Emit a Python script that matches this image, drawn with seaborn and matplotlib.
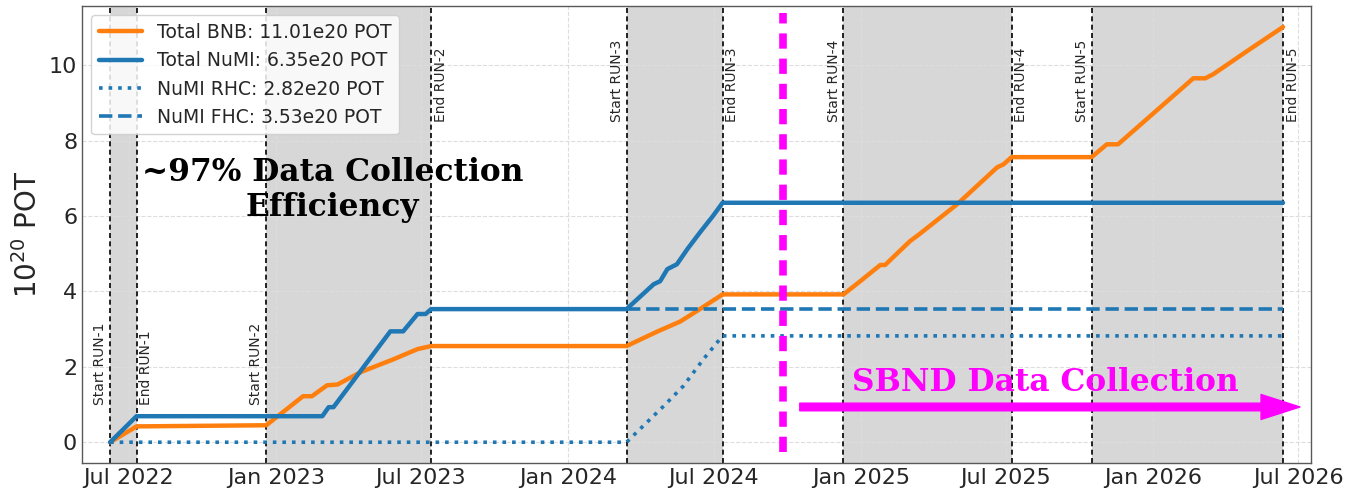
import numpy as np
import pandas as pd
import seaborn as sns
import matplotlib.pyplot as plt
import matplotlib.dates as mdates

# cumulative POT (units of 1e20)
bnb_dates = ['2022-06-08', '2022-07-11', '2022-12-20', '2023-02-04', '2023-02-15',
             '2023-03-06', '2023-03-19', '2023-04-17', '2023-05-28', '2023-06-27',
             '2023-07-14', '2024-03-14', '2024-04-22', '2024-05-20', '2024-06-10',
             '2024-07-12', '2024-12-10', '2024-12-31', '2025-01-25', '2025-01-31',
             '2025-03-03', '2025-03-15', '2025-05-01', '2025-06-20', '2025-06-28',
             '2025-07-08', '2025-10-16', '2025-11-04', '2025-11-18', '2026-02-20',
             '2026-03-07', '2026-03-17', '2026-04-28', '2026-06-12']
bnb_pot = [0.0, 0.42, 0.45, 1.22, 1.22,
           1.51, 1.53, 1.86, 2.2, 2.47,
           2.55, 2.55, 2.94, 3.2, 3.48,
           3.92, 3.92, 4.27, 4.7, 4.7,
           5.33, 5.52, 6.31, 7.29, 7.37,
           7.56, 7.56, 7.9, 7.9, 9.65,
           9.65, 9.76, 10.37, 11.01]

numi_dates = ['2022-06-08', '2022-07-11', '2023-02-28', '2023-03-08', '2023-03-14',
              '2023-05-24', '2023-06-09', '2023-06-27', '2023-07-07', '2023-07-14',
              '2024-03-14', '2024-04-17', '2024-04-25', '2024-05-04', '2024-05-16',
              '2024-05-29', '2024-06-14', '2024-06-30', '2024-07-12', '2026-06-12']
numi_pot = [0.0, 0.69, 0.69, 0.93, 0.93,
            2.94, 2.94, 3.4, 3.4, 3.53,
            3.53, 4.19, 4.27, 4.59, 4.72,
            5.12, 5.57, 6.0, 6.35, 6.35]

rhc_dates = ['2022-06-08', '2024-03-14', '2024-03-28', '2024-04-29', '2024-05-24',
             '2024-06-18', '2024-07-12', '2026-06-12']
rhc_pot = [0.0, 0.0, 0.29, 0.95, 1.49, 2.2, 2.82, 2.82]

fhc_dates = ['2024-03-14', '2026-06-12']
fhc_pot = [3.53, 3.53]

run_names = ['RUN-1', 'RUN-2', 'RUN-3', 'RUN-4', 'RUN-5']
run_start = ['2022-06-08', '2022-12-20', '2024-03-14', '2024-12-10', '2025-10-16']
run_end = ['2022-07-11', '2023-07-14', '2024-07-12', '2025-07-08', '2026-06-12']
sbnd_start = '2024-09-25'

sns.set_theme(style="whitegrid", rc={
    'grid.linestyle': '--', 'grid.color': '#dddddd', 'grid.linewidth': 0.8,
    'axes.edgecolor': '0.35', 'axes.linewidth': 1.0,
})
plt.rcParams['font.family'] = ['DejaVu Sans']

fig = plt.figure(figsize=(13.46, 4.92), dpi=100)
ax = fig.add_axes([0.061, 0.059, 0.913, 0.929])

for s, e in zip(run_start, run_end):
    ax.axvspan(pd.Timestamp(s), pd.Timestamp(e), color='lightgray', alpha=0.9, lw=0, zorder=0)
    ax.axvline(pd.Timestamp(s), color='black', ls=(0, (3, 2)), lw=1.2, zorder=1)
    ax.axvline(pd.Timestamp(e), color='black', ls=(0, (3, 2)), lw=1.2, zorder=1)

bnb = pd.DataFrame({'date': pd.to_datetime(bnb_dates), 'pot': bnb_pot})
numi = pd.DataFrame({'date': pd.to_datetime(numi_dates), 'pot': numi_pot})
rhc = pd.DataFrame({'date': pd.to_datetime(rhc_dates), 'pot': rhc_pot})
fhc = pd.DataFrame({'date': pd.to_datetime(fhc_dates), 'pot': fhc_pot})

sns.lineplot(data=bnb, x='date', y='pot', color='#ff7f0e', lw=3.2, estimator=None,
             label='Total BNB: 11.01e20 POT', ax=ax, zorder=3)
sns.lineplot(data=numi, x='date', y='pot', color='#1f77b4', lw=3.2, estimator=None,
             label='Total NuMI: 6.35e20 POT', ax=ax, zorder=3)
sns.lineplot(data=rhc, x='date', y='pot', color='#1f77b4', lw=2.6, ls=':', estimator=None,
             label='NuMI RHC: 2.82e20 POT', ax=ax, zorder=3)
sns.lineplot(data=fhc, x='date', y='pot', color='#1f77b4', lw=2.6, ls='--', estimator=None,
             label='NuMI FHC: 3.53e20 POT', ax=ax, zorder=3)

# run labels
for i, (name, s, e) in enumerate(zip(run_names, run_start, run_end)):
    ys = 1.0 if i < 2 else 8.5
    ye = 1.0 if i < 1 else 8.5
    ax.annotate('Start ' + name, xy=(pd.Timestamp(s), ys), xytext=(-2, 0),
                textcoords='offset points', rotation=90, ha='right', va='bottom', fontsize=10)
    ax.annotate('End ' + name, xy=(pd.Timestamp(e), ye), xytext=(2, 0),
                textcoords='offset points', rotation=90, ha='left', va='bottom', fontsize=10)

ax.axvline(pd.Timestamp(sbnd_start), ymin=0.024, ymax=0.985, color='#ff00ff',
           lw=5.5, ls=(0, (2, 1.3)), zorder=4)

ax.text(0.204, 0.597, '~97% Data Collection\nEfficiency', transform=ax.transAxes,
        ha='center', va='center', multialignment='center', fontsize=22.5,
        linespacing=1.15, fontweight='bold', family='DejaVu Serif', color='black', zorder=5)
ax.text(0.784, 0.175, 'SBND Data Collection', transform=ax.transAxes,
        ha='center', va='center', fontsize=22.5, fontweight='bold',
        family='DejaVu Serif', color='#ff00ff', zorder=5)
ax.annotate('', xy=(0.991, 0.1225), xytext=(0.584, 0.1225), xycoords='axes fraction',
            arrowprops=dict(facecolor='#ff00ff', edgecolor='#ff00ff', width=5.5,
                            headwidth=18, headlength=28), zorder=5)

ax.set_xlim(pd.Timestamp('2022-05-04'), pd.Timestamp('2026-07-17'))
ax.set_ylim(-0.55, 11.57)
ax.xaxis.set_major_locator(mdates.MonthLocator(bymonth=[1, 7]))
ax.xaxis.set_major_formatter(mdates.DateFormatter('%b %Y'))
ax.tick_params(axis='both', labelsize=16, direction='in', length=3)
ax.set_xlabel('')
ax.set_ylabel('$10^{20}$ POT', fontsize=20)

ax.legend(loc='upper left', fontsize=13.5, handlelength=2.3, framealpha=0.85)

fig.savefig('out.png', dpi=100)
